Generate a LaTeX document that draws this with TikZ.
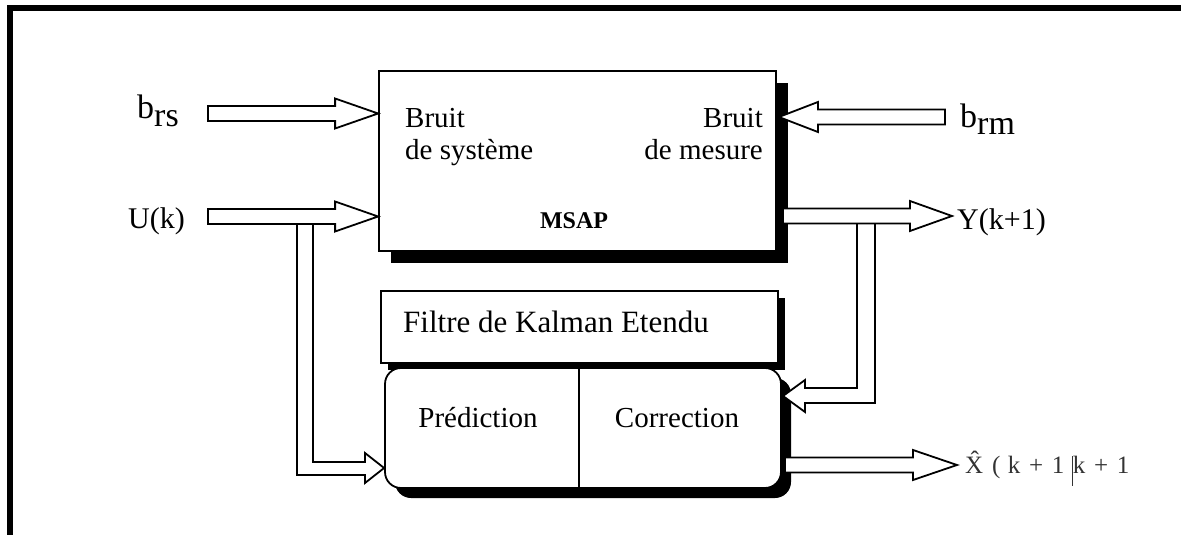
\documentclass[tikz,border=0pt]{standalone}
\usepackage{fontspec}
\setmainfont{Liberation Serif}
\usetikzlibrary{calc,shadows}

\tikzset{
  lbl/.style={inner sep=0pt, font=\fontsize{30}{36}\selectfont},
  sublbl/.style={inner sep=0pt, font=\fontsize{34}{40}\selectfont},
  boxtxt/.style={inner sep=0pt, font=\fontsize{29}{34}\selectfont},
  block/.style={draw, line width=1.8pt, fill=white, inner sep=0pt},
  pipe/.style={draw, line width=1.8pt, fill=white, line join=miter},
  frame/.style={line width=6pt},
}

% hollow block arrow from #1 (tail) to #2 (tip), head length #3
\newcommand\hollowarrow[3]{%
  \draw[pipe] let \p1=(#1), \p2=(#2), \p3=($(#2)!#3!(#1)$) in
    ({\x1},{\y1+7.5pt}) -- ({\x3},{\y1+7.5pt}) -- ({\x3},{\y1+15pt}) --
    (\p2) -- ({\x3},{\y1-15pt}) -- ({\x3},{\y1-7.5pt}) --
    ({\x1},{\y1-7.5pt}) -- cycle;
}

\begin{document}
\begin{tikzpicture}[x=1pt,y=-1pt]
\useasboundingbox (0,0) rectangle (1181,535);

% outer frame (top and left edges)
\draw[frame] (9.5,535) -- (9.5,8) -- (1181,8);

% process block
\node[block, minimum width=397pt, minimum height=180pt,
      drop shadow={shadow xshift=12pt,shadow yshift=-12pt,opacity=1,fill=black}]
      (msap) at (577.5,161) {};
\node[boxtxt, anchor=base west] (bs1) at (405,127) {Bruit};
\node[boxtxt, anchor=base west] (bs2) at (405,159) {de système};
\node[boxtxt, anchor=base east] (bm1) at (763,127) {Bruit};
\node[boxtxt, anchor=base east] (bm2) at (763,159) {de mesure};
\node[inner sep=0pt, font=\fontsize{24}{28}\selectfont\bfseries, anchor=base] (msaplbl) at (574,228) {MSAP};

% filter title block
\node[block, minimum width=397pt, minimum height=72pt,
      drop shadow={shadow xshift=7pt,shadow yshift=-7pt,opacity=1,fill=black}]
      (ekf) at (579.5,327) {};
\node[inner sep=0pt, font=\fontsize{31}{36}\selectfont, anchor=base west] (ekflbl) at (403,332) {Filtre de Kalman Etendu};

% prediction / correction block
\node[block, rounded corners=16pt, minimum width=396pt, minimum height=120pt,
      drop shadow={shadow xshift=10pt,shadow yshift=-10pt,opacity=1,fill=black}]
      (kf) at (583,428) {};
\coordinate (divtop) at (579,368);
\coordinate (divbot) at (579,488);
\draw[line width=1.8pt] (divtop) -- (divbot);
\node[boxtxt, anchor=base] (pred) at (478,427) {Prédiction};
\node[boxtxt, anchor=base] (corr) at (677,427) {Correction};

% signal labels
\node[sublbl, anchor=base west] (brs) at (137,118) {b\raisebox{-8pt}{rs}};
\node[sublbl, anchor=base west] (brm) at (960,127) {b\raisebox{-7pt}{rm}};
\node[lbl, anchor=base west] (uk) at (128,228) {U(k)};
\node[lbl, anchor=base west] (yk) at (957,229) {Y(k+1)};
\node[inner sep=0pt, font=\fontsize{25}{30}\selectfont, text=black!80, anchor=base west] (xk) at (965,473)
  {X^^^^0302\kern.35em(\kern.3em k\kern.35em+\kern.35em1\kern.3em\rule[-0.5em]{0.9pt}{1.2em}k\kern.35em+\kern.35em1};

% connector end points
\coordinate (brs-tail) at (208,113.5);
\coordinate (brs-tip)  at (msap.west |- brs-tail);
\coordinate (u-tail)   at (208,216.5);
\coordinate (u-tip)    at (msap.west |- u-tail);
\coordinate (brm-tail) at (945,117);
\coordinate (brm-tip)  at ([xshift=2pt]msap.east |- brm-tail);
\coordinate (y-tail)   at (783,216);
\coordinate (y-tip)    at (952,216);
\coordinate (x-tail)   at (785,465);
\coordinate (x-tip)    at (957,465);

% branch of the input towards the prediction step
\draw[pipe] (297,224) -- (297,475) -- (365,475) -- (365,483) -- (kf.west |- 0,468)
  -- (365,453) -- (365,462) -- (313,462) -- (313,224);
% branch of the output towards the correction step
\draw[pipe] (857,224) -- (857,388) -- (805,388) -- (805,380) -- (783,396)
  -- (805,412) -- (805,403) -- (875,403) -- (875,224);

% main block arrows
\hollowarrow{brs-tail}{brs-tip}{43pt}
\hollowarrow{u-tail}{u-tip}{43pt}
\hollowarrow{brm-tail}{brm-tip}{39pt}
\hollowarrow{y-tail}{y-tip}{42pt}
\hollowarrow{x-tail}{x-tip}{44pt}
\end{tikzpicture}
\end{document}
